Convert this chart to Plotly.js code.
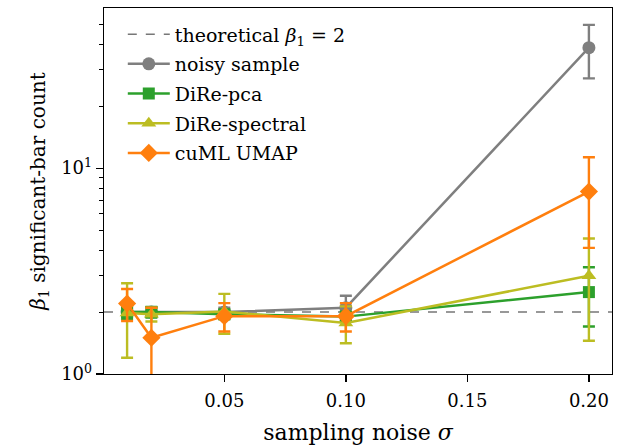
<!DOCTYPE html>
<html>
<head>
<meta charset="utf-8">
<script src="https://cdn.plot.ly/plotly-3.0.1.min.js"></script>
<style>html,body{margin:0;padding:0;background:#fff;}#chart{width:621px;height:446px;}</style>
</head>
<body>
<div id="chart"></div>
<script>
// ---- data ----
const sigma = [0.01, 0.02, 0.05, 0.10, 0.20];
const theoreticalBeta1 = 2;

const noisyMean = [2.0, 2.0, 2.0, 2.1, 38.5];
const noisyStd  = [0.1, 0.1, 0.1, 0.3, 11.2];

const pcaMean = [2.0, 2.0, 1.95, 1.9, 2.5];
const pcaStd  = [0.15, 0.12, 0.1, 0.1, 0.8];

const spectralMean = [1.98, 1.95, 2.01, 1.77, 3.0];
const spectralStd  = [0.78, 0.15, 0.44, 0.36, 1.55];

const umapMean = [2.2, 1.5, 1.91, 1.91, 7.7];
const umapStd  = [0.39, 0.6, 0.3, 0.3, 3.6];

const xTickVals = [0.05, 0.10, 0.15, 0.20];
const xTickText = ['0.05', '0.10', '0.15', '0.20'];
const yTickVals = [1, 10];
const yTickText = ['10<sup>0</sup>', '10<sup>1</sup>'];
const yMinorVals = [2,3,4,5,6,7,8,9,20,30,40,50];

// ---- styling ----
const FONT = 'DejaVu Serif, Liberation Serif, serif';
const xRange = [0.0005, 0.2095];
const yRange = [0, Math.log10(60)];

function series(name, mean, std, color, symbol, size) {
  return {
    type: 'scatter', mode: 'lines+markers', name: name,
    x: sigma, y: mean,
    legendgroup: name,
    line: {color: color, width: 2.5},
    marker: {color: color, symbol: symbol, size: size},
    error_y: {type: 'data', array: std, visible: true, color: color, thickness: 2.4, width: 6}
  };
}

const traces = [
  {type: 'scatter', mode: 'lines', name: 'theoretical <i>β</i><sub>1</sub> = 2',
   x: [null], y: [null], legendgroup: 'theo',
   line: {color: '#777777', width: 1.5, dash: 'dash'}},
  series('noisy sample', noisyMean, noisyStd, '#7f7f7f', 'circle', 13),
  series('DiRe-pca', pcaMean, pcaStd, '#2ca02c', 'square', 12),
  series('DiRe-spectral', spectralMean, spectralStd, '#bcbd22', 'triangle-up', 13),
  series('cuML UMAP', umapMean, umapStd, '#ff7f0e', 'diamond', 14)
];

const layout = {
  width: 621, height: 446,
  margin: {l: 104, r: 9, t: 8, b: 72},
  paper_bgcolor: '#ffffff', plot_bgcolor: '#ffffff',
  font: {family: FONT, color: '#000', size: 18},
  showlegend: true,
  legend: {x: 0.037, y: 0.98, xanchor: 'left', yanchor: 'top',
           bgcolor: 'rgba(255,255,255,0)', borderwidth: 0,
           itemwidth: 42,
           font: {family: FONT, size: 19, color: '#000'},
           traceorder: 'grouped', tracegroupgap: 2},
  xaxis: {
    range: xRange, tickvals: xTickVals, ticktext: xTickText,
    showline: true, mirror: true, linecolor: '#000', linewidth: 1.3,
    ticks: 'outside', ticklen: 7, tickwidth: 1.3, tickcolor: '#000',
    ticklabelstandoff: 3,
    showgrid: false, zeroline: false,
    tickfont: {family: FONT, size: 18},
    title: {text: 'sampling noise <i>σ</i>', font: {family: FONT, size: 22}, standoff: 14}
  },
  yaxis: {
    type: 'log', range: yRange, tickvals: yTickVals, ticktext: yTickText,
    showline: true, mirror: true, linecolor: '#000', linewidth: 1.3,
    ticks: 'outside', ticklen: 7, tickwidth: 1.3, tickcolor: '#000',
    showgrid: false, zeroline: false,
    tickfont: {family: FONT, size: 18},
    minor: {tickmode: 'array', tickvals: yMinorVals, ticks: 'outside', ticklen: 4, tickwidth: 1, tickcolor: '#000', showgrid: false},
    title: {text: '<i>β</i><sub>1</sub> significant-bar count', font: {family: FONT, size: 20}, standoff: 10}
  },
  shapes: [{type: 'line', xref: 'paper', x0: 0, x1: 1, yref: 'y', y0: theoreticalBeta1, y1: theoreticalBeta1,
            line: {color: '#777777', width: 1.5, dash: 'dash'}, layer: 'below'}]
};

Plotly.newPlot('chart', traces, layout, {displayModeBar: false, staticPlot: true});
</script>
</body>
</html>
